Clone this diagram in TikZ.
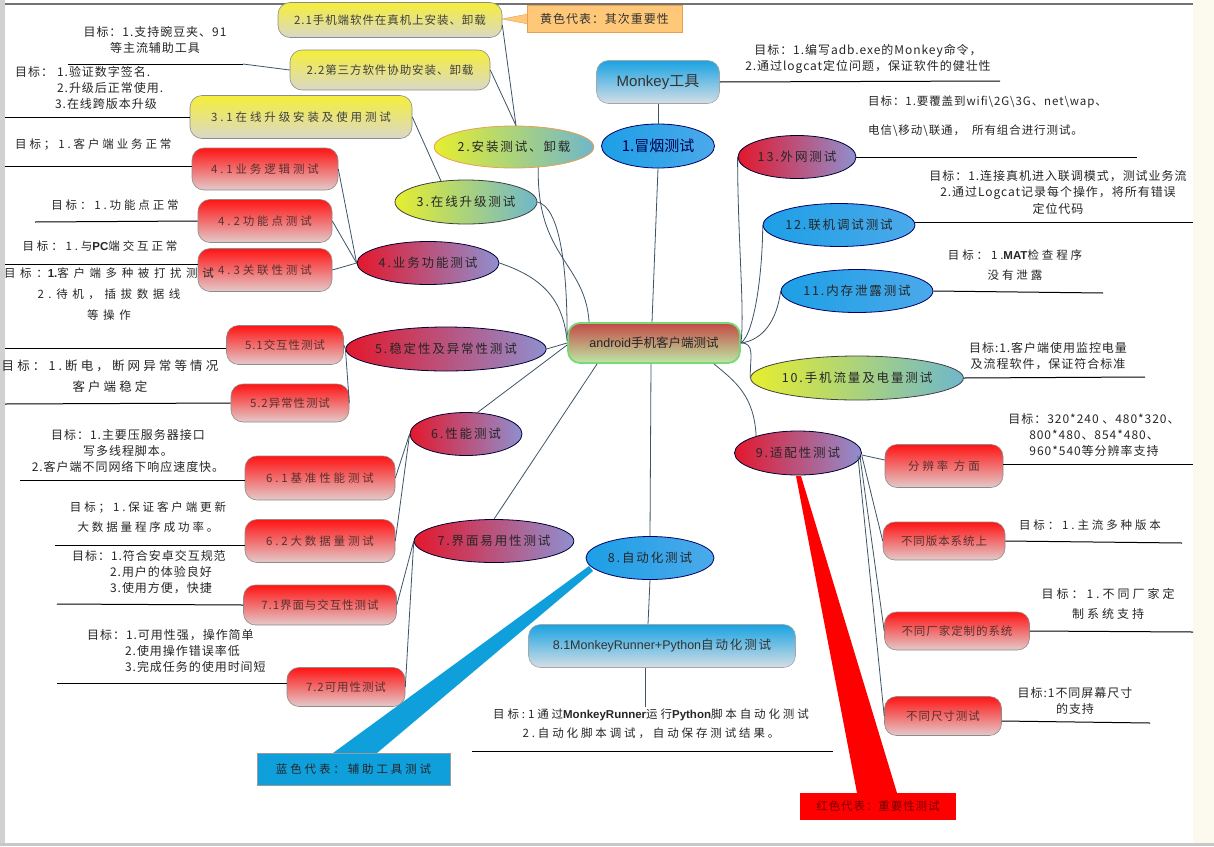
\documentclass[tikz,border=0pt]{standalone}
\usepackage{fontspec}
\setmainfont{Noto Sans CJK SC}
\newfontfamily\gf[LetterSpace=8]{Noto Sans CJK SC}
\newfontfamily\spc[LetterSpace=25]{Noto Sans CJK SC}
\newfontfamily\spw[LetterSpace=40]{Noto Sans CJK SC}
\newfontfamily\ellf[LetterSpace=15]{Noto Sans CJK SC}
\newfontfamily\lat{Liberation Sans}
\usetikzlibrary{shapes.geometric}
\definecolor{redT}{HTML}{FF1414}
\definecolor{redB}{HTML}{E4CACA}
\definecolor{yelT}{HTML}{F5EE3A}
\definecolor{yelB}{HTML}{DAD8C8}
\definecolor{bluT}{HTML}{1AA3E2}
\definecolor{bluB}{HTML}{D5DEE6}
\definecolor{elRL}{HTML}{E3182D}
\definecolor{elRR}{HTML}{8F8FCF}
\definecolor{elBL}{HTML}{1D9FE6}
\definecolor{elBR}{HTML}{4BA9EA}
\definecolor{elYL}{HTML}{E6EE2E}
\definecolor{elYR}{HTML}{6FB7CB}
\definecolor{rootT}{HTML}{C24A45}
\definecolor{rootB}{HTML}{BEE8A6}
\definecolor{connC}{HTML}{3E5366}
\definecolor{txtC}{HTML}{262626}
\definecolor{boxTxt}{HTML}{5A3030}
\definecolor{beige}{HTML}{FCFAEE}
\definecolor{callY}{HTML}{FFC878}
\definecolor{callYd}{HTML}{E8A050}
\definecolor{callB}{HTML}{0FA0DC}
\tikzset{
  sz/.style 2 args={minimum width=#1pt,minimum height=#2pt},
  rbox/.style={rounded corners=12pt, draw=black!45, line width=0.6pt, inner sep=0pt, text=boxTxt, font=\gf\fontsize{11.5}{13}\selectfont},
  rsp/.style={font=\spc\fontsize{11.5}{13}\selectfont},
  redbox/.style={rbox, top color=redT, bottom color=redB},
  yelbox/.style={rbox, top color=yelT, bottom color=yelB, text=black!75},
  blubox/.style={rbox, top color=bluT, bottom color=bluB, text=black!80, draw=black!35},
  ell/.style={ellipse, inner sep=0pt, line width=0.8pt, text=txtC, font=\ellf\fontsize{12.5}{14}\selectfont},
  ellR/.style={ell, left color=elRL, right color=elRR, draw=black!80!blue},
  ellB/.style={ell, left color=elBL, right color=elBR, draw=blue!40!black},
  ellY/.style={ell, left color=elYL, right color=elYR, draw=black!75},
  conn/.style={draw=connC, line width=0.8pt},
  uline/.style={draw=black, line width=1pt},
  goal/.style={text=txtC, font=\gf\fontsize{12}{16}\selectfont, align=center, inner sep=0pt},
  goals/.style={goal, font=\spc\fontsize{11.5}{16}\selectfont},
}
\begin{document}
\begin{tikzpicture}[x=1pt,y=-1pt]
\useasboundingbox (0,0) rectangle (1214,846);
\fill[white] (0,0) rectangle (1214,846);
\fill[black!18] (0,0) rectangle (5,846);
\fill[beige] (1193,0) rectangle (1214,846);
\fill[black!22] (0,843) rectangle (1214,846);
\draw[black!55, line width=1.5pt] (5,4) -- (1193,4);

% ---- wedges of the colour callouts
\fill[callB] (333,753) -- (377,753) -- (593,571) -- (589,566) -- cycle;
\fill[red] (857,793) -- (897,793) -- (801,476) -- (796,476) -- cycle;
\fill[callY, draw=callYd] (528,14) -- (502,19) -- (528,24);

% ---- callouts
\node[fill=callY, draw=callYd, sz={155}{27}, inner sep=0pt, font=\gf\fontsize{12}{13}\selectfont, text=black!80] (cY) at (604.5,18.5) {黄色代表：其次重要性};
\node[fill=callB, draw=black!40, sz={193}{32}, inner sep=0pt, font=\spc\fontsize{11.5}{13}\selectfont, text=black!85] (cB) at (353.5,769) {蓝色代表：辅助工具测试};
\node[fill=red, sz={156}{27}, inner sep=0pt, font=\gf\fontsize{11.5}{12}\selectfont, text=red!45!black] (cR) at (878,806.5) {红色代表：重要性测试};

% ---- root and main branches
\node[rounded corners=12pt, top color=rootT, bottom color=rootB, draw=green!45!white!85!black, line width=1.8pt, sz={172}{40}, inner sep=0pt, text=black!85, font=\fontsize{12.5}{14}\selectfont] (root) at (654,343) {{\lat android}手机客户端测试};

\node[blubox, sz={123}{43}, font=\fontsize{15}{17}\selectfont] (nM) at (658,82) {{\lat Monkey}工具};
\node[ellB, sz={113}{44}, font=\fontsize{15}{17}\selectfont, text=blue!30!black] (n1) at (658,146) {1.冒烟测试};
\node[ellY, sz={155}{42}, draw=callYd] (n2) at (514,147) {2.安装测试、卸载};
\node[ellY, sz={142}{44}] (n3) at (466,202) {3.在线升级测试};
\node[ellR, sz={142}{43}] (n4) at (428,263) {4.业务功能测试};
\node[ellR, sz={188}{44}] (n5) at (446,349) {5.稳定性及异常性测试};
\node[ellR, sz={112}{43}] (n6) at (466,434) {6.性能测试};
\node[ellR, sz={158}{43}] (n7) at (494,541) {7.界面易用性测试};
\node[ellB, sz={128}{43}] (n8) at (650,558) {8.自动化测试};
\node[ellR, sz={127}{44}] (n9) at (798,453) {9.适配性测试};
\node[ellY, sz={194}{44}] (n10) at (857,378) {10.手机流量及电量测试};
\node[ellB, sz={148}{43}] (n11) at (857,291) {11.内存泄露测试};
\node[ellB, sz={148}{43}] (n12) at (839,225) {12.联机调试测试};
\node[ellR, sz={118}{43}] (n13) at (797,157) {13.外网测试};

% ---- sub nodes
\node[yelbox, sz={224}{35}] (n21) at (390,20) {2.1手机端软件在真机上安装、卸载};
\node[yelbox, sz={200}{40}] (n22) at (390,70) {2.2第三方软件协助安装、卸载};
\node[yelbox, sz={222}{43}, rsp] (n31) at (301,117) {3.1在线升级安装及使用测试};
\node[redbox, sz={146}{42}, rsp] (n41) at (265,169) {4.1业务逻辑测试};
\node[redbox, sz={134}{43}, rsp] (n42) at (265,221) {4.2功能点测试};
\node[redbox, sz={134}{43}, rsp] (n43) at (265,270) {4.3关联性测试};
\node[redbox, sz={117}{39}] (n51) at (285,345) {5.1交互性测试};
\node[redbox, sz={118}{38}] (n52) at (290,403) {5.2异常性测试};
\node[redbox, sz={150}{44}, rsp] (n61) at (320,478) {6.1基准性能测试};
\node[redbox, sz={150}{43}, rsp] (n62) at (320,541) {6.2大数据量测试};
\node[redbox, sz={153}{40}] (n71) at (320,605) {7.1界面与交互性测试};
\node[redbox, sz={118}{39}] (n72) at (346,687) {7.2可用性测试};
\node[blubox, sz={267}{43}, font=\ellf\fontsize{12.5}{14}\selectfont] (n81) at (662,646) {{\lat 8.1MonkeyRunner+Python}自动化测试};
\node[redbox, sz={118}{43}, rsp] (nR) at (944,466) {分辨率\ 方面};
\node[redbox, sz={122}{38}] (nV) at (944,541) {不同版本系统上};
\node[redbox, sz={145}{38}] (nF) at (957,631) {不同厂家定制的系统};
\node[redbox, sz={117}{39}] (nS) at (943,716) {不同尺寸测试};

% ---- connectors: main
\draw[conn] (nM.south) -- (n1.north);
\draw[conn] (n1.south) -- ([xshift=-2pt]root.north);
\draw[conn] (n2.-40) .. controls +(-2,90) and +(-4,-60) .. ([xshift=22pt]root.north west);
\draw[conn] (n3.east) .. controls +(22,5) and +(0,-70) .. ([yshift=8pt]root.west);
\draw[conn] (n4.east) .. controls +(45,15) and +(-4,-40) .. ([yshift=2pt]root.west);
\draw[conn] (n5.east) -- (root.west);
\draw[conn] ([yshift=-2pt]root.west) -- (n6.62);
\draw[conn] ([xshift=30pt]root.south west) -- (n7.north);
\draw[conn] ([xshift=-3pt]root.south) -- (n8.north);
\draw[conn] ([xshift=-27pt]root.south east) .. controls +(22,18) and +(-2,-40) .. (n9.158);
\draw[conn] (root.east) .. controls +(14,0) and +(0,-22) .. (n10.west);
\draw[conn] (root.east) .. controls +(22,-3) and +(-4,30) .. (n11.west);
\draw[conn] (root.east) .. controls +(14,-10) and +(0,45) .. (n12.west);
\draw[conn] (root.east) .. controls +(4,-30) and +(0,80) .. (n13.west);

% ---- connectors: sub
\draw[conn] ([yshift=-5pt]n21.east) -- ([xshift=2pt]n2.north);
\draw[conn] (n22.east) -- ([xshift=2pt]n2.north);
\draw[conn] (n31.east) -- (n3.140);
\draw[conn] (n41.east) -- (n4.west);
\draw[conn] (n42.east) -- (n4.west);
\draw[conn] (n43.east) -- (n4.west);
\draw[conn] (n51.east) -- (n5.west);
\draw[conn] (n52.east) -- (n5.west);
\draw[conn] (n61.east) -- (n6.west);
\draw[conn] (n62.east) -- (n6.west);
\draw[conn] (n71.east) -- (n7.west);
\draw[conn] (n72.east) -- (n7.west);
\draw[conn] (n8.south) -- ([xshift=-14pt]n81.north);
\draw[conn] ([yshift=-2pt]n9.east) -- ([yshift=6pt]nR.west);
\draw[conn] ([yshift=-3pt]n9.east) -- (nV.west);
\draw[conn] ([xshift=-2pt,yshift=-3pt]n9.east) -- (nF.west);
\draw[conn] ([xshift=-4pt,yshift=-3pt]n9.east) -- (nS.west);

% ---- goal texts, left
\node[goal] (gA) at (155,40) {目标：1.支持豌豆夹、91\\等主流辅助工具};
\coordinate (uA) at (68,64);
\coordinate (uA2) at (243,64);
\draw[uline] (uA) -- (uA2);
\draw[conn] (uA2) -- (n22.west);

\node[goal, align=left, anchor=north west] (gB) at (15,66) {目标：\hspace{4pt}1.验证数字签名.\\\hphantom{目标：\hspace{4pt}}2.升级后正常使用.\\\hphantom{目标：\hspace{2pt}}3.在线跨版本升级};
\coordinate (uB) at (5,117);
\draw[uline] (uB) -- (n31.west);

\node[goals, anchor=west] (g41) at (15,145) {目标；1.客户端业务正常};
\coordinate (u41) at (5,166);
\draw[uline] (u41) -- ([yshift=3pt]n41.west);

\node[goals] (g42) at (115,205) {目标：1.功能点正常};
\coordinate (u42) at (35,222);
\draw[uline] (u42) -- (n42.west);

\node[goals] (g43) at (100,246) {目标：1.与{\lat\bfseries PC}端交互正常};
\coordinate (u43) at (5,264);
\draw[uline] (u43) -- ([yshift=6pt]n43.west);

\node[goal, font=\spw\fontsize{11.5}{21}\selectfont] (g43b) at (109,294) {目标：{\lat\bfseries 1.}客户端多种被打扰测试\\2.待机，插拔数据线\\等操作};
\coordinate (u51) at (5,348);
\draw[uline] (u51) -- ([yshift=-3pt]n51.west);

\node[goal, font=\spc\fontsize{12.5}{21}\selectfont] (g5) at (110,376) {目标：1.断电，断网异常等情况\\客户端稳定};
\coordinate (u52) at (5,404);
\draw[uline] (u52) -- (n52.west);

\node[goal] (g6) at (128,451) {目标：1.主要压服务器接口\\写多线程脚本。\\2.客户端不同网络下响应速度快。};
\coordinate (u61) at (20,480);
\draw[uline] (u61) -- ([yshift=-2pt]n61.west);

\node[goals, font=\spc\fontsize{11.5}{20}\selectfont] (g62) at (148,517) {目标；1.保证客户端更新\\大数据量程序成功率。};
\coordinate (u62) at (55,545);
\draw[uline] (u62) -- ([yshift=-4pt]n62.west);

\node[goal, align=left, anchor=north west] (g71) at (72,550) {目标：1.符合安卓交互规范\\\hphantom{目标：}2.用户的体验良好\\\hphantom{目标：}3.使用方便，快捷};
\coordinate (u71) at (57,604);
\draw[uline] (u71) -- (n71.west);

\node[goal, align=left, anchor=north west] (g72) at (87,629) {目标：1.可用性强，操作简单\\\hphantom{目标：}2.使用操作错误率低\\\hphantom{目标：}3.完成任务的使用时间短};
\coordinate (u72) at (57,683);
\draw[uline] (u72) -- ([yshift=4pt]n72.west);

% ---- goal texts, right
\node[goal] (gM) at (868,59) {目标：1.编写adb.exe的Monkey命令，\\2.通过logcat定位问题，保证软件的健壮性};
\coordinate (uM) at (1000,81);
\draw[uline] (nM.east) -- (uM);

\node[goal, align=left, anchor=north west, font=\gf\fontsize{11.5}{16}\selectfont] (g13) at (868,96) {目标：1.要覆盖到wifi\textbackslash 2G\textbackslash 3G、net\textbackslash wap、\\[13pt]电信\textbackslash 移动\textbackslash 联通，\ \ 所有组合进行测试。};
\coordinate (u13) at (1137,157);
\draw[uline] (n13.east) -- (u13);

\node[goal, font=\gf\fontsize{12}{16.5}\selectfont] (g12) at (1058,192) {目标：1.连接真机进入联调模式，测试业务流\\2.通过Logcat记录每个操作，将所有错误\\定位代码};
\coordinate (u12) at (1193,222);
\draw[uline] ([yshift=3pt]n12.east) -- (u12);

\node[goals, font=\spc\fontsize{11.5}{20}\selectfont] (g11) at (1015,265) {目标：1.{\lat\bfseries MAT}检查程序\\没有泄露};
\coordinate (u11) at (1103,293);
\draw[uline] (n11.east) -- (u11);

\node[goal] (g10) at (1048,356) {目标:1.客户端使用监控电量\\及流程软件，保证符合标准};
\coordinate (u10) at (1145,377);
\draw[uline] (n10.east) -- (u10);

\node[goal] (gR) at (1094,435) {目标：320*240 、480*320、\\800*480、854*480、\\960*540等分辨率支持};
\coordinate (uR) at (1193,464);
\draw[uline] ([yshift=2pt]nR.east) -- (uR);

\node[goals] (gV) at (1090,525) {目标：1.主流多种版本};
\coordinate (uV) at (1182,543);
\draw[uline] (nV.east) -- (uV);

\node[goals, font=\spc\fontsize{12}{20}\selectfont] (gF) at (1108,604) {目标：1.不同厂家定\\制系统支持};
\coordinate (uF) at (1193,632);
\draw[uline] (nF.east) -- (uF);

\node[goal] (gS) at (1075,701) {目标:1不同屏幕尺寸\\的支持};
\coordinate (uS) at (1150,723);
\draw[uline] ([yshift=-5pt]nS.east) -- (uS);

\node[goals, font=\spc\fontsize{11.5}{19}\selectfont] (g81) at (651,724) {目标:1通过{\lat\bfseries MonkeyRunner}运行{\lat\bfseries Python}脚本自动化测试\\2.自动化脚本调试，自动保存测试结果。};
\coordinate (c81) at (645,707);
\draw[conn] ([xshift=-17pt]n81.south) -- (c81);
\coordinate (u81a) at (472,751);
\coordinate (u81b) at (833,751);
\draw[uline] (u81a) -- (u81b);
\end{tikzpicture}
\end{document}
